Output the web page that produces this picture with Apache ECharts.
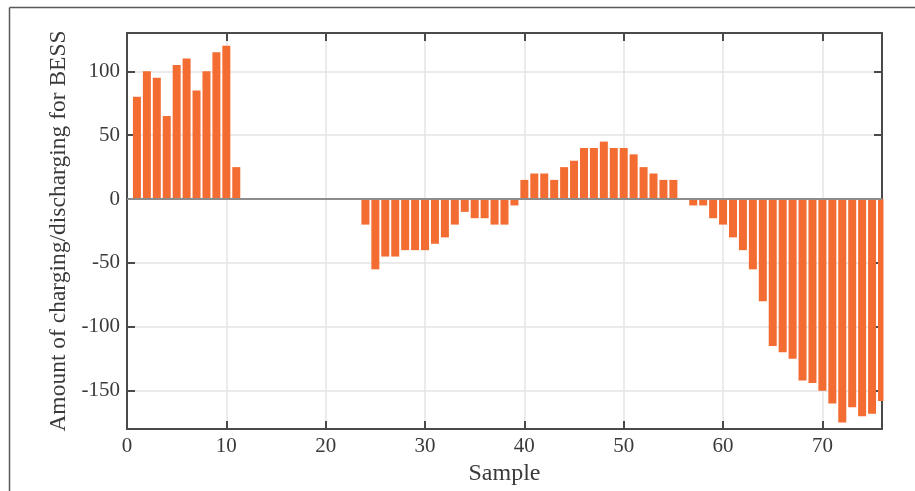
<!DOCTYPE html>
<html>
<head>
<meta charset="utf-8">
<script src="https://cdn.jsdelivr.net/npm/echarts@6/dist/echarts.min.js"></script>
<style>
  html, body { margin: 0; padding: 0; background: #ffffff; }
  #chart { width: 915px; height: 491px; }
</style>
</head>
<body>
<div id="chart"></div>
<script>
// Sample index of each bar
const samples = [
  1, 2, 3, 4, 5, 6, 7, 8, 9, 10,
  11, 12, 13, 14, 15, 16, 17, 18, 19, 20,
  21, 22, 23, 24, 25, 26, 27, 28, 29, 30,
  31, 32, 33, 34, 35, 36, 37, 38, 39, 40,
  41, 42, 43, 44, 45, 46, 47, 48, 49, 50,
  51, 52, 53, 54, 55, 56, 57, 58, 59, 60,
  61, 62, 63, 64, 65, 66, 67, 68, 69, 70,
  71, 72, 73, 74, 75, 76
];

// BESS charging (+) / discharging (-) amount per sample
const bessAmount = [
  80, 100, 95, 65, 105, 110, 85, 100, 115, 120,
  25, 0, 0, 0, 0, 0, 0, 0, 0, 0,
  0, 0, 0, -20, -55, -45, -45, -40, -40, -40,
  -35, -30, -20, -10, -15, -15, -20, -20, -5, 15,
  20, 20, 15, 25, 30, 40, 40, 45, 40, 40,
  35, 25, 20, 15, 15, 0, -5, -5, -15, -20,
  -30, -40, -55, -80, -115, -120, -125, -142, -144, -150,
  -160, -175, -163, -170, -168, -158
];

// Axis ranges
const xRange = [0, 76];
const xStep = 10;
const yRange = [-180, 130];

const FONT = 'Liberation Serif';
const FRAME = '#4a4a4a';
const GRID = '#e4e4e4';
const BAR = '#f36c31';
const TEXT = '#3a3a3a';

function frameAxis(extra) {
  return Object.assign({
    axisLine: { show: true, onZero: false, lineStyle: { color: FRAME, width: 2 } },
    axisTick: { show: true, inside: true, length: 8, lineStyle: { color: FRAME, width: 2 } },
    axisLabel: { show: false },
    splitLine: { show: false }
  }, extra);
}

const chart = echarts.init(document.getElementById('chart'), null, { renderer: 'canvas' });

chart.setOption({
  animation: false,
  backgroundColor: '#ffffff',
  grid: { left: 127, right: 33, top: 33, bottom: 62, containLabel: false },
  graphic: [
    // white margin strip right of the plot so the last bar is cut at the frame
    { type: 'rect', silent: true, z: 3, shape: { x: 883.5, y: 20, width: 40, height: 420 },
      style: { fill: '#ffffff' } },
    { type: 'line', silent: true, z: 4, shape: { x1: 9.5, y1: 7.5, x2: 915, y2: 7.5 },
      style: { stroke: '#5a5a5a', lineWidth: 1.5 } },
    { type: 'line', silent: true, z: 4, shape: { x1: 9.5, y1: 7.5, x2: 9.5, y2: 491 },
      style: { stroke: '#5a5a5a', lineWidth: 1.5 } }
  ],
  xAxis: [
    frameAxis({
      type: 'value', position: 'bottom', min: xRange[0], max: xRange[1], interval: xStep,
      name: 'Sample', nameLocation: 'middle', nameGap: 31,
      nameTextStyle: { fontFamily: FONT, fontSize: 24, color: TEXT },
      axisLabel: { show: true, fontFamily: FONT, fontSize: 21, color: TEXT, margin: 7,
                   showMaxLabel: false },
      splitLine: { show: true, lineStyle: { color: GRID, width: 1.5 } }
    }),
    frameAxis({
      type: 'value', position: 'top', min: xRange[0], max: xRange[1], interval: xStep
    })
  ],
  yAxis: [
    frameAxis({
      type: 'value', position: 'left', min: yRange[0], max: yRange[1],
      name: 'Amount of charging/discharging for BESS', nameLocation: 'middle', nameGap: 52,
      nameRotate: 90,
      nameTextStyle: { fontFamily: FONT, fontSize: 23.5, color: TEXT },
      axisLabel: { show: true, fontFamily: FONT, fontSize: 21, color: TEXT, margin: 7,
                   showMinLabel: false, showMaxLabel: false },
      splitLine: { show: true, lineStyle: { color: GRID, width: 1.5 } }
    }),
    frameAxis({
      type: 'value', position: 'right', min: yRange[0], max: yRange[1]
    })
  ],
  series: [
    {
      type: 'bar',
      xAxisIndex: 0,
      yAxisIndex: 0,
      z: 2,
      clip: true,
      barWidth: 8,
      barMinHeight: 1,
      itemStyle: { color: BAR },
      data: samples.map((s, i) => [s, bessAmount[i]]),
      markLine: {
        silent: true,
        symbol: 'none',
        label: { show: false },
        emphasis: { disabled: true },
        lineStyle: { color: '#8c8c8c', width: 2, type: 'solid' },
        data: [{ yAxis: 0 }]
      }
    }
  ]
});
</script>
</body>
</html>
